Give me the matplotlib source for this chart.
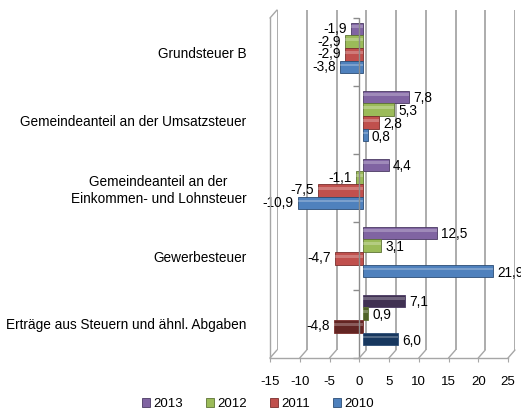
import numpy as np
import matplotlib
matplotlib.use('Agg')
import matplotlib.pyplot as plt
from matplotlib.patches import ConnectionPatch

plt.rcParams['font.family'] = ['Liberation Sans', 'DejaVu Sans']
plt.rcParams['axes.unicode_minus'] = False

categories = [
    'Grundsteuer B',
    'Gemeindeanteil an der Umsatzsteuer',
    'Gemeindeanteil an der\nEinkommen- und Lohnsteuer',
    'Gewerbesteuer',
    'Erträge aus Steuern und ähnl. Abgaben',
]
years = ['2013', '2012', '2011', '2010']
v2013 = [-1.9, 7.8, 4.4, 12.5, 7.1]
v2012 = [-2.9, 5.3, -1.1, 3.1, 0.9]
v2011 = [-2.9, 2.8, -7.5, -4.7, -4.8]
v2010 = [-3.8, 0.8, -10.9, 21.9, 6.0]
values = [v2013, v2012, v2011, v2010]

colors = ['#8064A2', '#9BBB59', '#C0504D', '#4F81BD']
dark_colors = ['#403152', '#4F6228', '#632523', '#17375E']
edge_colors = ['#4B3A63', '#5E7335', '#7A2E2C', '#2C4D75']

xticks = [-15, -10, -5, 0, 5, 10, 15, 20, 25]

W, H = 521, 417
fig = plt.figure(figsize=(W / 100, H / 100), dpi=100)


def box(l, r, t, b):
    return [l / W, 1 - b / H, (r - l) / W, (b - t) / H]


ax_back = fig.add_axes(box(277, 515, 10, 350))
ax_mid = fig.add_axes(box(273.5, 511.5, 14, 354))
ax = fig.add_axes(box(270, 508, 18, 358))

for a in (ax_back, ax_mid, ax):
    a.set_xlim(-15, 25)
    a.set_ylim(4.5, -0.5)
    a.patch.set_alpha(0)
for a in (ax_back, ax_mid):
    a.axis('off')

# back wall gridlines
grid_c = '#A6A6A6'
for v in xticks:
    ax_back.plot([v, v], [-0.5, 4.5], color=grid_c, lw=1.3, solid_capstyle='butt')

# floor slants
for v in xticks:
    cp = ConnectionPatch(xyA=(v, 4.5), coordsA=ax_back.transData,
                         xyB=(v, 4.5), coordsB=ax.transData,
                         color=grid_c, lw=1.0)
    fig.add_artist(cp)
cp = ConnectionPatch(xyA=(-15, -0.5), coordsA=ax_back.transData,
                     xyB=(-15, -0.5), coordsB=ax.transData,
                     color=grid_c, lw=1.0)
fig.add_artist(cp)

# bars
y = np.arange(len(categories))
step = 0.188
hgt = 0.18
for i, (vals, yr) in enumerate(zip(values, years)):
    pos = y + (i - 1.5) * step
    cols = [colors[i]] * 4 + [dark_colors[i]]
    ax_mid.barh(pos, vals, height=hgt, color=cols, edgecolor=edge_colors[i],
                linewidth=0.6, zorder=3)
    ax_mid.barh(pos - hgt * 0.18, vals, height=hgt * 0.22, color='white',
                alpha=0.25, linewidth=0, zorder=4)
    for p, v in zip(pos, vals):
        lab = f'{v:.1f}'.replace('.', ',')
        if v >= 0:
            ax_mid.annotate(lab, (v, p), xytext=(3, -1), textcoords='offset points',
                            ha='left', va='center', fontsize=9.8, color='black')
        else:
            ax_mid.annotate(lab, (v, p), xytext=(-3, 0), textcoords='offset points',
                            ha='right', va='center', fontsize=9.8, color='black')

# front frame
ax.axvline(0, color='#8C8C8C', lw=1.0)
bounds = np.arange(len(categories) + 1) - 0.5
ax.plot(np.zeros(len(bounds)), bounds, linestyle='none', marker=0,
        markersize=4, color='#8C8C8C', clip_on=False)

for s in ('top', 'right'):
    ax.spines[s].set_visible(False)
ax.spines['left'].set_color(grid_c)
ax.spines['bottom'].set_color(grid_c)
ax.spines['left'].set_linewidth(1.0)
ax.spines['bottom'].set_linewidth(1.0)

ax.set_xticks(xticks)
ax.set_xticklabels([str(t) for t in xticks], fontsize=9.5)
ax.tick_params(axis='x', length=3, color=grid_c, pad=10)
ax.set_yticks(y)
ax.set_yticklabels(categories, fontsize=9.8)
ax.tick_params(axis='y', length=0, pad=17)
for t in ax.get_yticklabels():
    t.set_multialignment('center')

handles = [plt.Rectangle((0, 0), 1, 1, facecolor=c, edgecolor=e, lw=0.6)
           for c, e in zip(colors, edge_colors)]
fig.legend(handles, years, loc='center', ncol=4, frameon=False,
           bbox_to_anchor=(258 / W, 1 - 404 / H), fontsize=9.5,
           handlelength=0.6, handleheight=0.6, handletextpad=0.3,
           columnspacing=1.7)

fig.savefig('out.png', dpi=100)
